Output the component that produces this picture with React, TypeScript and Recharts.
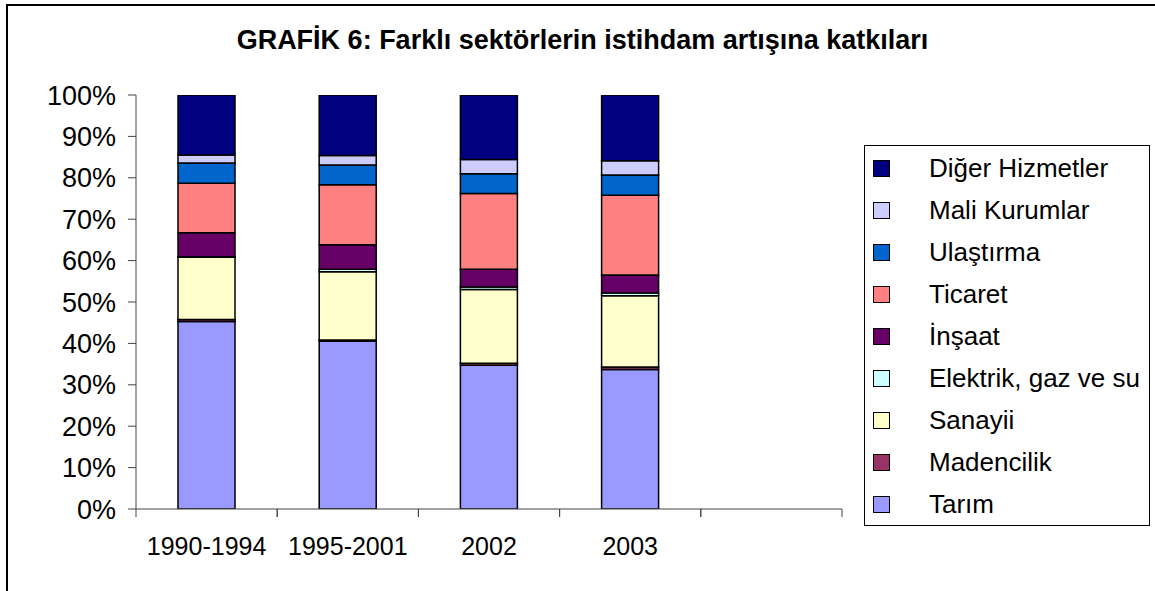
import { BarChart, Bar, XAxis, YAxis, Legend } from "recharts";

const categories = ["1990-1994", "1995-2001", "2002", "2003", ""];

// shares in percent, per period (bottom of the stack first)
const tarim = [45.3, 40.5, 34.7, 33.7];
const madencilik = [0.5, 0.3, 0.5, 0.6];
const sanayii = [15.0, 16.5, 17.8, 17.2];
const elektrik = [0.1, 0.6, 0.6, 0.7];
const insaat = [5.8, 5.9, 4.3, 4.3];
const ticaret = [12.0, 14.5, 18.3, 19.3];
const ulastirma = [4.9, 4.8, 4.8, 4.9];
const mali = [1.9, 2.3, 3.4, 3.4];
const diger = [14.5, 14.6, 15.6, 15.9];

const yTicks = [0, 10, 20, 30, 40, 50, 60, 70, 80, 90, 100];

const series = [
  { key: "tarim", name: "Tarım", color: "#9999FF", values: tarim },
  { key: "madencilik", name: "Madencilik", color: "#993366", values: madencilik },
  { key: "sanayii", name: "Sanayii", color: "#FFFFCC", values: sanayii },
  { key: "elektrik", name: "Elektrik, gaz ve su", color: "#CCFFFF", values: elektrik },
  { key: "insaat", name: "İnşaat", color: "#660066", values: insaat },
  { key: "ticaret", name: "Ticaret", color: "#FF8080", values: ticaret },
  { key: "ulastirma", name: "Ulaştırma", color: "#0066CC", values: ulastirma },
  { key: "mali", name: "Mali Kurumlar", color: "#CCCCFF", values: mali },
  { key: "diger", name: "Diğer Hizmetler", color: "#000080", values: diger },
];

const data = categories.map((name, i) => {
  const row: any = { name };
  series.forEach((s) => {
    row[s.key] = s.values[i];
  });
  return row;
});

const FONT = "'Liberation Sans', Arial, sans-serif";
const AXIS = "#444";
const TICK_SIZE = 8;
const TICK_MARGIN = 20;

// category label in the middle, tick marks on the band edges (Excel style)
function CategoryTick({ x, y, payload }: any) {
  const half = payload?.offset || 70.6;
  const axisY = y - TICK_SIZE - TICK_MARGIN;
  return (
    <g>
      <line x1={x - half} x2={x - half} y1={axisY} y2={axisY + TICK_SIZE} stroke={AXIS} />
      <line x1={x + half} x2={x + half} y1={axisY} y2={axisY + TICK_SIZE} stroke={AXIS} />
      <text x={x} y={y} dy="0.71em" textAnchor="middle" fill="#000" fontSize={25} fontFamily={FONT}>
        {payload.value}
      </text>
    </g>
  );
}

function LegendBox() {
  return (
    <div
      style={{
        width: 284,
        height: 378,
        border: "1px solid #000",
        background: "#fff",
        paddingTop: 1,
        boxSizing: "content-box",
        fontFamily: FONT,
        fontSize: 26,
        color: "#000",
      }}
    >
      {[...series].reverse().map((s) => (
        <div key={s.key} style={{ height: 42, display: "flex", alignItems: "center" }}>
          <span
            style={{
              display: "inline-block",
              width: 15,
              height: 15,
              marginLeft: 8,
              marginRight: 39,
              background: s.color,
              border: "1px solid #000",
            }}
          />
          <span style={{ whiteSpace: "nowrap" }}>{s.name}</span>
        </div>
      ))}
    </div>
  );
}

export default function App() {
  return (
    <div
      style={{
        position: "absolute",
        left: 0,
        top: 0,
        width: 1155,
        height: 591,
        overflow: "hidden",
        background: "#fff",
      }}
    >
      <div
        style={{
          position: "absolute",
          left: 6,
          top: 4,
          width: 1300,
          height: 700,
          borderTop: "2px solid #000",
          borderLeft: "2px solid #000",
        }}
      />
      <div
        style={{
          position: "absolute",
          left: 0,
          width: 1165,
          top: 25,
          textAlign: "center",
          fontFamily: FONT,
          fontWeight: "bold",
          fontSize: 27,
          color: "#000",
        }}
      >
        GRAFİK 6: Farklı sektörlerin istihdam artışına katkıları
      </div>
      <div style={{ position: "absolute", left: 0, top: 0 }}>
        <BarChart
          width={1155}
          height={591}
          data={data}
          margin={{ top: 95, right: 27, bottom: 22, left: 56 }}
          barSize={57}
        >
          <XAxis
            dataKey="name"
            height={60}
            axisLine={{ stroke: AXIS }}
            tickLine={false}
            tickSize={TICK_SIZE}
            tickMargin={TICK_MARGIN}
            interval={0}
            tick={<CategoryTick />}
          />
          <YAxis
            width={80}
            domain={[0, 100]}
            ticks={yTicks}
            allowDataOverflow
            tickFormatter={(v) => `${v}%`}
            axisLine={{ stroke: AXIS }}
            tickLine={{ stroke: AXIS }}
            tickSize={TICK_SIZE}
            tickMargin={12}
            tick={{ fill: "#000", fontSize: 27, fontFamily: FONT }}
          />
          <Legend
            layout="vertical"
            align="right"
            verticalAlign="top"
            content={<LegendBox />}
            wrapperStyle={{ left: 864, top: 145, right: "auto", width: 286 }}
          />
          {series.map((s) => (
            <Bar
              key={s.key}
              dataKey={s.key}
              name={s.name}
              stackId="a"
              fill={s.color}
              stroke="#000"
              strokeWidth={1.5}
              isAnimationActive={false}
            />
          ))}
        </BarChart>
      </div>
    </div>
  );
}
